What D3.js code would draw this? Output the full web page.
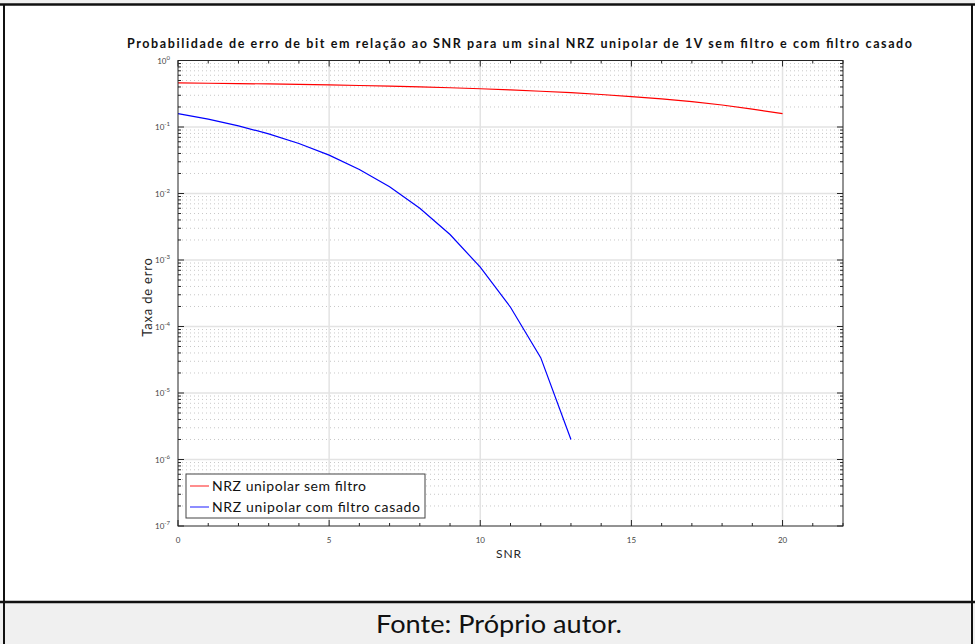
<!DOCTYPE html>
<html>
<head>
<meta charset="utf-8">
<script src="https://cdn.jsdelivr.net/npm/d3@7"></script>
<style>
  body { margin: 0; background: #fff; }
  svg { display: block; font-family: Lato, "Open Sans", sans-serif; }
</style>
</head>
<body>
<div id="chart"></div>
<script>
// SNR (dB) values
var snrSem = [0,1,2,3,4,5,6,7,8,9,10,11,12,13,14,15,16,17,18,19,20];
var berSem = [0.460,0.455,0.450,0.444,0.437,0.429,0.421,0.411,0.401,0.389,0.376,
              0.361,0.345,0.328,0.308,0.287,0.264,0.240,0.214,0.186,0.159];
var snrCasado = [0,1,2,3,4,5,6,7,8,9,10,11,12,13];
var berCasado = [0.159,0.131,0.104,0.0788,0.0565,0.0377,0.0230,0.0126,0.0060,
                 0.00242,7.8e-4,1.95e-4,3.4e-5,2.0e-6];
var xTicks = [0,5,10,15,20];
var yExp = [0,-1,-2,-3,-4,-5,-6,-7];
var seriesNames = ["NRZ unipolar sem filtro", "NRZ unipolar com filtro casado"];
var seriesColors = ["#ff0000", "#0000ff"];

var width = 975, height = 644;
var svg = d3.select("#chart").append("svg")
    .attr("width", width).attr("height", height);

// page frame
svg.append("rect").attr("x", 0).attr("y", 0).attr("width", width).attr("height", 4).attr("fill", "#f0f0f0");
svg.append("rect").attr("x", 0).attr("y", 603).attr("width", width).attr("height", 41).attr("fill", "#f0f0f0");
svg.append("line").attr("x1", 0).attr("x2", width).attr("y1", 4.5).attr("y2", 4.5).attr("stroke", "#111").attr("stroke-width", 2.5);
svg.append("line").attr("x1", 0).attr("x2", width).attr("y1", 602).attr("y2", 602).attr("stroke", "#111").attr("stroke-width", 2.5);
svg.append("line").attr("x1", 4).attr("x2", 4).attr("y1", 4).attr("y2", height).attr("stroke", "#111").attr("stroke-width", 2);
svg.append("line").attr("x1", 972).attr("x2", 972).attr("y1", 4).attr("y2", height).attr("stroke", "#111").attr("stroke-width", 2);
svg.append("text").attr("x", 499).attr("y", 633).attr("text-anchor", "middle")
    .attr("font-size", 25).attr("fill", "#111")
    .attr("textLength", 246).attr("lengthAdjust", "spacingAndGlyphs")
    .text("Fonte: Próprio autor.");

var x = d3.scaleLinear().domain([0, 22]).range([178, 843]);
var y = d3.scaleLog().domain([1e-7, 1]).range([526, 60.5]);

var g = svg.append("g");

// minor grid (dotted)
var minors = [];
yExp.slice(1).forEach(function(e) {
  for (var k = 2; k <= 9; k++) minors.push(k * Math.pow(10, e));
});
g.selectAll(".ygm").data(minors).enter().append("line")
    .attr("x1", x(0)).attr("x2", x(22))
    .attr("y1", d => y(d)).attr("y2", d => y(d))
    .attr("stroke", "#c8c8c8").attr("stroke-width", 1).attr("stroke-dasharray", "1,3");

// major grid
g.selectAll(".yg").data(yExp.slice(1, 7)).enter().append("line")
    .attr("x1", x(0)).attr("x2", x(22))
    .attr("y1", d => y(Math.pow(10, d))).attr("y2", d => y(Math.pow(10, d)))
    .attr("stroke", "#e3e3e3").attr("stroke-width", 1.5);
g.selectAll(".xg").data(xTicks.slice(1)).enter().append("line")
    .attr("x1", d => x(d)).attr("x2", d => x(d))
    .attr("y1", y(1)).attr("y2", y(1e-7))
    .attr("stroke", "#e3e3e3").attr("stroke-width", 1.5);

// curves
var line = d3.line().x(d => x(d[0])).y(d => y(d[1]));
svg.append("path").datum(d3.zip(snrSem, berSem))
    .attr("d", line).attr("fill", "none").attr("stroke", seriesColors[0]).attr("stroke-width", 1.2);
svg.append("path").datum(d3.zip(snrCasado, berCasado))
    .attr("d", line).attr("fill", "none").attr("stroke", seriesColors[1]).attr("stroke-width", 1.2);

// axes box
svg.append("rect").attr("x", x(0)).attr("y", y(1)).attr("width", x(22) - x(0)).attr("height", y(1e-7) - y(1))
    .attr("fill", "none").attr("stroke", "#262626").attr("stroke-width", 1);

// ticks
var tk = svg.append("g").attr("stroke", "#262626").attr("stroke-width", 1);
minors.forEach(function(v) {
  tk.append("line").attr("x1", x(0)).attr("x2", x(0) + 3).attr("y1", y(v)).attr("y2", y(v));
  tk.append("line").attr("x1", x(22)).attr("x2", x(22) - 3).attr("y1", y(v)).attr("y2", y(v));
});
yExp.forEach(function(e) {
  var v = Math.pow(10, e);
  tk.append("line").attr("x1", x(0)).attr("x2", x(0) + 6).attr("y1", y(v)).attr("y2", y(v));
  tk.append("line").attr("x1", x(22)).attr("x2", x(22) - 6).attr("y1", y(v)).attr("y2", y(v));
});
d3.range(0, 22.01, 1).forEach(function(v) {
  var len = (v % 5 === 0) ? 6 : 3;
  tk.append("line").attr("x1", x(v)).attr("x2", x(v)).attr("y1", y(1e-7)).attr("y2", y(1e-7) - len);
  tk.append("line").attr("x1", x(v)).attr("x2", x(v)).attr("y1", y(1)).attr("y2", y(1) + len);
});

// tick labels
svg.selectAll(".xl").data(xTicks).enter().append("text")
    .attr("x", d => x(d)).attr("y", 543).attr("text-anchor", "middle")
    .attr("font-size", 8).attr("fill", "#444").text(d => d);
var yl = svg.selectAll(".yl").data(yExp).enter().append("text")
    .attr("x", 170).attr("y", d => y(Math.pow(10, d)) + 3).attr("text-anchor", "end")
    .attr("font-size", 8).attr("fill", "#444");
yl.append("tspan").text("10");
yl.append("tspan").attr("dy", -4).attr("font-size", 6).text(d => d);

// axis labels and title
svg.append("text").attr("x", 509).attr("y", 558).attr("text-anchor", "middle")
    .attr("font-size", 12).attr("letter-spacing", 1).attr("fill", "#262626").text("SNR");
svg.append("text").attr("transform", "translate(152,297) rotate(-90)").attr("text-anchor", "middle")
    .attr("font-size", 13).attr("letter-spacing", 0.8).attr("fill", "#262626").text("Taxa de erro");
svg.append("text").attr("x", 127).attr("y", 48)
    .attr("font-size", 12.5).attr("font-weight", "bold").attr("fill", "#111")
    .attr("textLength", 785).attr("lengthAdjust", "spacing")
    .text("Probabilidade de erro de bit em relação ao SNR para um sinal NRZ unipolar de 1V sem filtro e com filtro casado");

// legend
var lg = svg.append("g");
lg.append("rect").attr("x", 186).attr("y", 474).attr("width", 239).attr("height", 44)
    .attr("fill", "#fff").attr("stroke", "#444").attr("stroke-width", 1);
seriesNames.forEach(function(n, i) {
  var yy = 486 + i * 21;
  lg.append("line").attr("x1", 190).attr("x2", 209).attr("y1", yy).attr("y2", yy)
      .attr("stroke", seriesColors[i]).attr("stroke-opacity", 0.6).attr("stroke-width", 1.5);
  lg.append("text").attr("x", 212).attr("y", yy + 5).attr("font-size", 14).attr("fill", "#111")
      .attr("textLength", i === 0 ? 154 : 208).attr("lengthAdjust", "spacing").text(n);
});
</script>
</body>
</html>
